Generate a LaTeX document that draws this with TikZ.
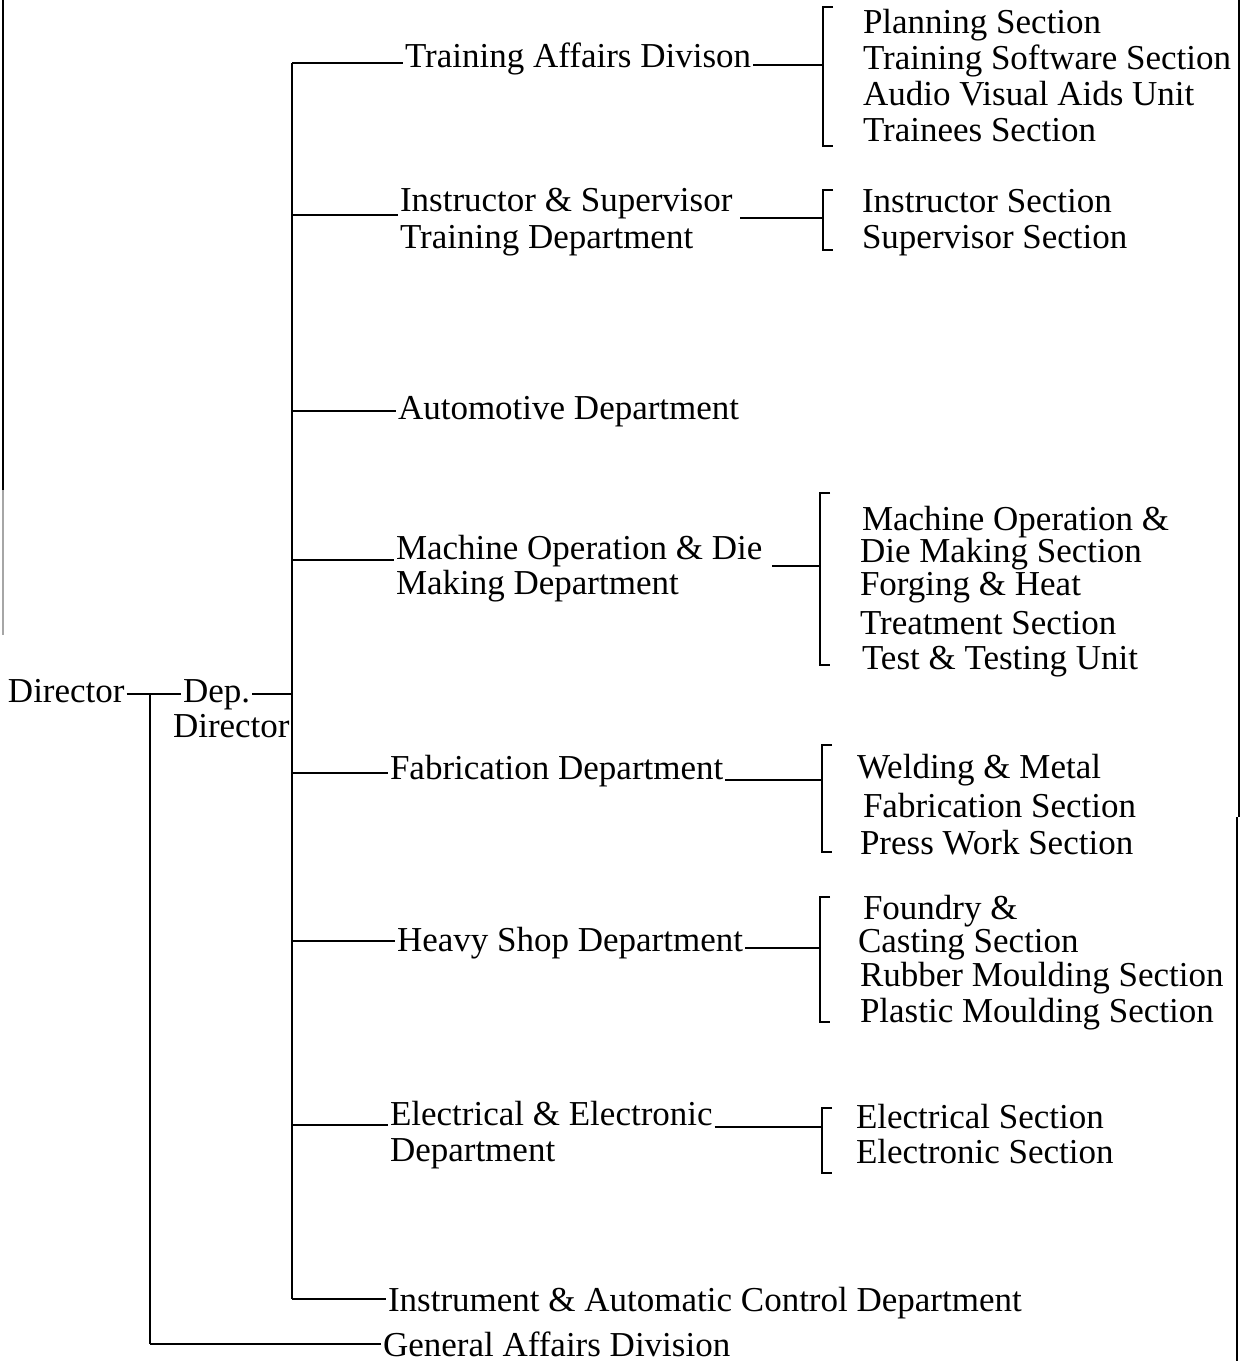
\documentclass[tikz,border=0pt]{standalone}
\usepackage{fontspec}
\setmainfont{Liberation Serif}
\begin{document}
\begin{tikzpicture}[x=1pt,y=-1pt,
  lbl/.style={anchor=base west,inner sep=0pt,outer sep=2pt,font=\fontsize{35}{36}\selectfont},
  conn/.style={line width=1.6pt},
  trunk/.style={line width=2.2pt},
  brk/.style={line width=1.6pt}]
\useasboundingbox[fill=white] (0,0) rectangle (1242,1361);
% scan borders
\draw[line width=2pt] (3,0) -- (3,490);
\draw[line width=1.5pt,black!35] (3,490) -- (3,635);
\draw[line width=2pt] (1239,0) -- (1239,817);
\draw[line width=2pt] (1237,817) -- (1237,1361);

% top level
\node[lbl] (dir) at (6,702) {Director};
\node[lbl] (dep) at (181,702) {Dep.};
\node[lbl] (dep2) at (171,737) {Director};
\coordinate (dy) at (0,694);
\coordinate (j1) at (150,694);
\coordinate (jd) at (292,694);
\coordinate (ttop) at (292,63);
\coordinate (tbot) at (292,1299);
\coordinate (jg) at (150,1344);

% departments
\node[lbl] (ta) at (403,67) {Training Affairs Divison};
\node[lbl] (is1) at (398,211) {Instructor \& Supervisor};
\node[lbl] (is2) at (398,248) {Training Department};
\node[lbl] (au) at (396,419) {Automotive Department};
\node[lbl] (mo1) at (394,559) {Machine Operation \& Die};
\node[lbl] (mo2) at (394,594) {Making Department};
\node[lbl] (fa) at (388,779) {Fabrication Department};
\node[lbl] (hs) at (395,951) {Heavy Shop Department};
\node[lbl] (ee1) at (388,1125) {Electrical \& Electronic};
\node[lbl] (ee2) at (388,1161) {Department};
\node[lbl] (ia) at (386,1311) {Instrument \& Automatic Control Department};
\node[lbl] (ga) at (381,1356) {General Affairs Division};

% sections
\node[lbl] (s11) at (861,33) {Planning Section};
\node[lbl] (s12) at (861,69) {Training Software Section};
\node[lbl] (s13) at (861,105) {Audio Visual Aids Unit};
\node[lbl] (s14) at (861,141) {Trainees Section};
\node[lbl] (s21) at (860,212) {Instructor Section};
\node[lbl] (s22) at (860,248) {Supervisor Section};
\node[lbl] (s41) at (860,530) {Machine Operation \&};
\node[lbl] (s42) at (858,562) {Die Making Section};
\node[lbl] (s43) at (858,595) {Forging \& Heat};
\node[lbl] (s44) at (858,634) {Treatment Section};
\node[lbl] (s45) at (860,669) {Test \& Testing Unit};
\node[lbl] (s51) at (855,778) {Welding \& Metal};
\node[lbl] (s52) at (861,817) {Fabrication Section};
\node[lbl] (s53) at (858,854) {Press Work Section};
\node[lbl] (s61) at (861,919) {Foundry \&};
\node[lbl] (s62) at (856,952) {Casting Section};
\node[lbl] (s63) at (858,986) {Rubber Moulding Section};
\node[lbl] (s64) at (858,1022) {Plastic Moulding Section};
\node[lbl] (s71) at (854,1128) {Electrical Section};
\node[lbl] (s72) at (854,1163) {Electronic Section};

% trunk and top connectors
\draw[conn] (dir.east |- dy) -- (dep.west |- dy);
\draw[conn] (dep.east |- dy) -- (jd);
\draw[trunk] (j1) -- (jg);
\draw[trunk] (ttop) -- (tbot);
\draw[conn] (jg) -- (jg -| ga.west);

% branches from trunk
\foreach \n/\yy in {ta/63, is1/215, au/411, mo1/560, fa/773, hs/941, ee1/1125, ia/1299}{
  \draw[conn] (292,\yy) coordinate (b-\n) -- (b-\n -| \n.west);
}

% brackets
\def\bracket#1#2#3#4{%
  \draw[brk] (#2+10,#3) coordinate (#1-top) -- (#2,#3) -- (#2,#4) -- (#2+10,#4) coordinate (#1-bot);
  \coordinate (#1) at (#2,{(#3+#4)/2});}
\bracket{br1}{823}{7}{146}
\bracket{br2}{823}{190}{250}
\bracket{br4}{820}{493}{665}
\bracket{br5}{822}{745}{852}
\bracket{br6}{820}{897}{1022}
\bracket{br7}{822}{1108}{1173}

% connectors from departments to brackets
\coordinate (c1) at (0,65);
\coordinate (c2) at (740,218);
\coordinate (c4) at (772,566);
\coordinate (c5) at (0,780);
\coordinate (c6) at (0,948);
\coordinate (c7) at (0,1127);
\draw[conn] (ta.east |- c1) -- (br1 |- c1);
\draw[conn] (c2) -- (br2 |- c2);
\draw[conn] (c4) -- (br4 |- c4);
\draw[conn] (fa.east |- c5) -- (br5 |- c5);
\draw[conn] (hs.east |- c6) -- (br6 |- c6);
\draw[conn] (ee1.east |- c7) -- (br7 |- c7);
\end{tikzpicture}
\end{document}
